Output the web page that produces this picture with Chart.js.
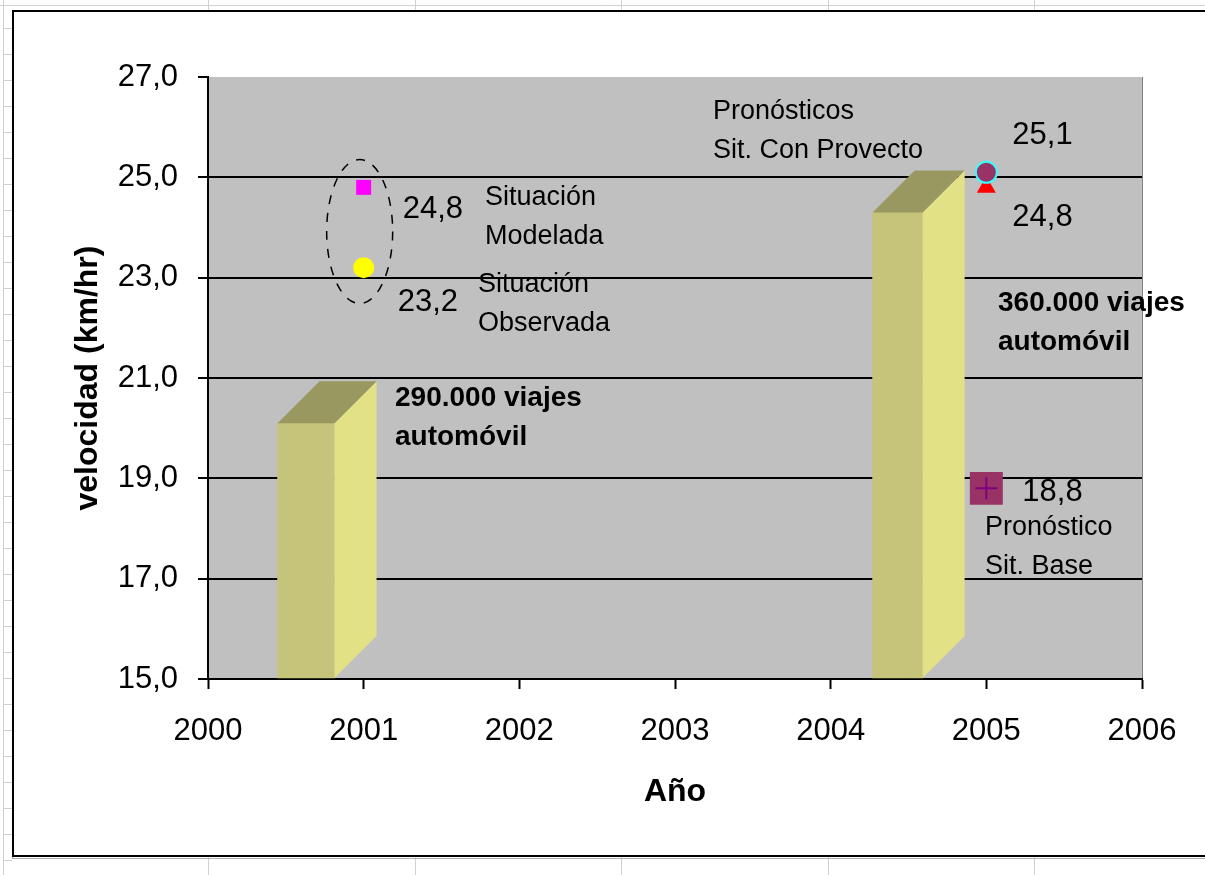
<!DOCTYPE html>
<html>
<head>
<meta charset="utf-8">
<script src="https://cdn.jsdelivr.net/npm/chart.js@4.4.1/dist/chart.umd.min.js"></script>
<style>
  html, body { margin: 0; padding: 0; background: #fff; }
</style>
</head>
<body>
<canvas id="velChart" width="1205" height="875"></canvas>
<script>
// axis ranges
const yearMin = 2000;
const yearMax = 2006;
const speedMin = 15;
const speedMax = 27;

// speed observations / forecasts (km/hr)
const pointNames = ["Situación Modelada", "Situación Observada", "Sit. Con Proyecto (modelada)", "Sit. Con Proyecto", "Sit. Base"];
const pointYears = [2001, 2001, 2005, 2005, 2005];
const pointValues = [24.8, 23.2, 24.8, 25.1, 18.8];

// car trips columns (drawn on the speed scale)
const tripNames = ["290.000 viajes automóvil", "360.000 viajes automóvil"];
const tripYears = [2000.63, 2004.43];
const tripTops = [20.1, 24.3];

// looks for each point series, same order as above
const pointLooks = [
  { style: "rect", radius: 10.6, fill: "#ff00ff", border: "#ff00ff", bw: 0, dx: 39, dy: 22, order: 2 },
  { style: "circle", radius: 10.5, fill: "#ffff00", border: "#ffff00", bw: 0, dx: 34, dy: 35, order: 2 },
  { style: "triangle", radius: 11, fill: "#ff0000", border: "#ff0000", bw: 0, dx: 26, dy: 30, order: 3 },
  { style: "circle", radius: 10.5, fill: "#993366", border: "#33ffff", bw: 2, dx: 26, dy: -37, order: 1 },
  { style: "rect", radius: 23.3, fill: "#993366", border: "#993366", bw: 0, dx: 36, dy: 4, order: 1, cross: "#800080" }
];
const tripWidths = [57, 50];

const notes = [
  { lines: ["Situación", "Modelada"], x: 485, y: 198 },
  { lines: ["Situación", "Observada"], x: 478, y: 285 },
  { lines: ["Pronósticos", "Sit. Con Provecto"], x: 713, y: 112 },
  { lines: ["Pronóstico", "Sit. Base"], x: 985, y: 528 },
  { lines: ["290.000 viajes", "automóvil"], x: 395, y: 398, bold: true },
  { lines: ["360.000 viajes", "automóvil"], x: 998, y: 303, bold: true }
];

const FONT = "'Liberation Sans', Arial, sans-serif";
Chart.defaults.font.family = FONT;
Chart.defaults.color = "#000";

const fmt = (v) => v.toFixed(1).replace(".", ",");

const sheetAndFrame = {
  id: "sheetAndFrame",
  beforeDraw(chart) {
    const { ctx, chartArea: a, width, height } = chart;
    ctx.save();
    ctx.fillStyle = "#fff";
    ctx.fillRect(0, 0, width, height);
    // worksheet grid behind the chart object
    ctx.strokeStyle = "#d0d0d0";
    ctx.lineWidth = 1;
    ctx.beginPath();
    [208, 415, 621, 828, 1034].forEach((x) => {
      ctx.moveTo(x + 0.5, 0);
      ctx.lineTo(x + 0.5, height);
    });
    ctx.moveTo(3.5, 0);
    ctx.lineTo(3.5, height);
    ctx.moveTo(0, 5.5);
    ctx.lineTo(width, 5.5);
    for (let y = 28; y < height; y += 26) {
      ctx.moveTo(3, y + 0.5);
      ctx.lineTo(12, y + 0.5);
    }
    ctx.stroke();
    // chart frame
    ctx.fillStyle = "#fff";
    ctx.fillRect(12, 10, width, 847);
    ctx.strokeStyle = "#b0b0b0";
    ctx.lineWidth = 1;
    ctx.strokeRect(12.5, 10.5, width, 848);
    ctx.strokeStyle = "#000";
    ctx.lineWidth = 2;
    ctx.strokeRect(13, 11, width, 845);
    // plot area
    ctx.fillStyle = "#c0c0c0";
    ctx.fillRect(a.left, a.top, a.right - a.left, a.bottom - a.top);
    ctx.strokeStyle = "#808080";
    ctx.lineWidth = 1;
    ctx.beginPath();
    ctx.moveTo(a.right + 0.5, a.top);
    ctx.lineTo(a.right + 0.5, a.bottom);
    ctx.stroke();
    ctx.restore();
  }
};

// side and top faces of the 3D columns
const columnFaces = {
  id: "columnFaces",
  afterDatasetDraw(chart, args) {
    const ds = chart.data.datasets[args.index];
    if (ds.type !== "bar") return;
    const ctx = chart.ctx;
    const d = 42;
    args.meta.data.forEach((bar) => {
      const { x, y, base, width } = bar.getProps(["x", "y", "base", "width"], true);
      const l = x - width / 2;
      const r = x + width / 2;
      ctx.save();
      ctx.fillStyle = "#e2e186";
      ctx.beginPath();
      ctx.moveTo(r, base);
      ctx.lineTo(r, y);
      ctx.lineTo(r + d, y - d);
      ctx.lineTo(r + d, base - d);
      ctx.closePath();
      ctx.fill();
      ctx.fillStyle = "#989860";
      ctx.beginPath();
      ctx.moveTo(l, y);
      ctx.lineTo(r, y);
      ctx.lineTo(r + d, y - d);
      ctx.lineTo(l + d, y - d);
      ctx.closePath();
      ctx.fill();
      ctx.restore();
    });
  }
};

const labelsAndNotes = {
  id: "labelsAndNotes",
  afterDatasetsDraw(chart) {
    const ctx = chart.ctx;
    ctx.save();
    ctx.fillStyle = "#000";
    ctx.textBaseline = "middle";
    ctx.textAlign = "left";

    // dashed ring round the 2001 points
    const p0 = chart.getDatasetMeta(0).data[0];
    const p1 = chart.getDatasetMeta(1).data[0];
    ctx.strokeStyle = "#000";
    ctx.lineWidth = 1.5;
    ctx.setLineDash([9, 9]);
    ctx.beginPath();
    ctx.ellipse(p0.x - 4, (p0.y + p1.y) / 2 + 4, 33, 72, 0, 0, Math.PI * 2);
    ctx.stroke();
    ctx.setLineDash([]);

    chart.data.datasets.forEach((ds, i) => {
      if (ds.type === "bar") return;
      const pt = chart.getDatasetMeta(i).data[0];
      if (ds.crossColor) {
        ctx.strokeStyle = ds.crossColor;
        ctx.lineWidth = 2;
        ctx.beginPath();
        ctx.moveTo(pt.x - 11, pt.y);
        ctx.lineTo(pt.x + 11, pt.y);
        ctx.moveTo(pt.x, pt.y - 11);
        ctx.lineTo(pt.x, pt.y + 11);
        ctx.stroke();
      }
      ctx.font = "31px " + FONT;
      ctx.fillText(fmt(ds.data[0].y), pt.x + ds.labelDx, pt.y + ds.labelDy);
    });

    notes.forEach((n) => {
      ctx.font = (n.bold ? "bold 28px " : "27px ") + FONT;
      n.lines.forEach((line, k) => ctx.fillText(line, n.x, n.y + k * 39));
    });
    ctx.restore();
  }
};

const pointSets = pointNames.map((name, i) => {
  const look = pointLooks[i];
  return {
    type: "scatter",
    label: name,
    data: [{ x: pointYears[i], y: pointValues[i] }],
    pointStyle: look.style,
    pointRadius: look.radius,
    pointHoverRadius: look.radius,
    backgroundColor: look.fill,
    borderColor: look.border,
    borderWidth: look.bw,
    order: look.order,
    labelDx: look.dx,
    labelDy: look.dy,
    crossColor: look.cross
  };
});

const tripSets = tripNames.map((name, i) => ({
  type: "bar",
  label: name,
  data: [{ x: tripYears[i], y: tripTops[i] }],
  base: speedMin,
  barThickness: tripWidths[i],
  grouped: false,
  backgroundColor: "#c5c47a",
  borderWidth: 0,
  order: 10
}));

new Chart(document.getElementById("velChart"), {
  type: "scatter",
  data: { datasets: [...pointSets, ...tripSets] },
  options: {
    responsive: false,
    animation: false,
    devicePixelRatio: 1,
    layout: { padding: { top: 77, right: 63, left: 0, bottom: 0 } },
    plugins: { legend: { display: false }, tooltip: { enabled: false } },
    scales: {
      x: {
        type: "linear",
        min: yearMin,
        max: yearMax,
        offset: false,
        ticks: { stepSize: 1, callback: (v) => String(v), font: { size: 31 }, color: "#000", padding: 24 },
        grid: { offset: false, drawOnChartArea: false, tickLength: 10, tickColor: "#000", tickWidth: 2 },
        border: { color: "#000", width: 2 },
        title: { display: true, text: "Año", font: { size: 32, weight: "bold" }, color: "#000", padding: { top: 0, bottom: 64 } },
        afterFit: (s) => { s.height = 196; }
      },
      y: {
        type: "linear",
        min: speedMin,
        max: speedMax,
        ticks: { stepSize: 2, callback: (v) => fmt(v), font: { size: 31 }, color: "#000", padding: 20 },
        grid: {
          color: (c) => (c.tick && c.tick.value === speedMax ? "rgba(0,0,0,0)" : "#000"),
          lineWidth: 2,
          tickLength: 10,
          tickColor: "#000",
          tickWidth: 2
        },
        border: { color: "#000", width: 2 },
        title: { display: true, text: "velocidad (km/hr)", font: { size: 32, weight: "bold" }, color: "#000", padding: { top: 69, bottom: 0 } },
        afterFit: (s) => { s.width = 208; }
      }
    }
  },
  plugins: [sheetAndFrame, columnFaces, labelsAndNotes]
});
</script>
</body>
</html>
